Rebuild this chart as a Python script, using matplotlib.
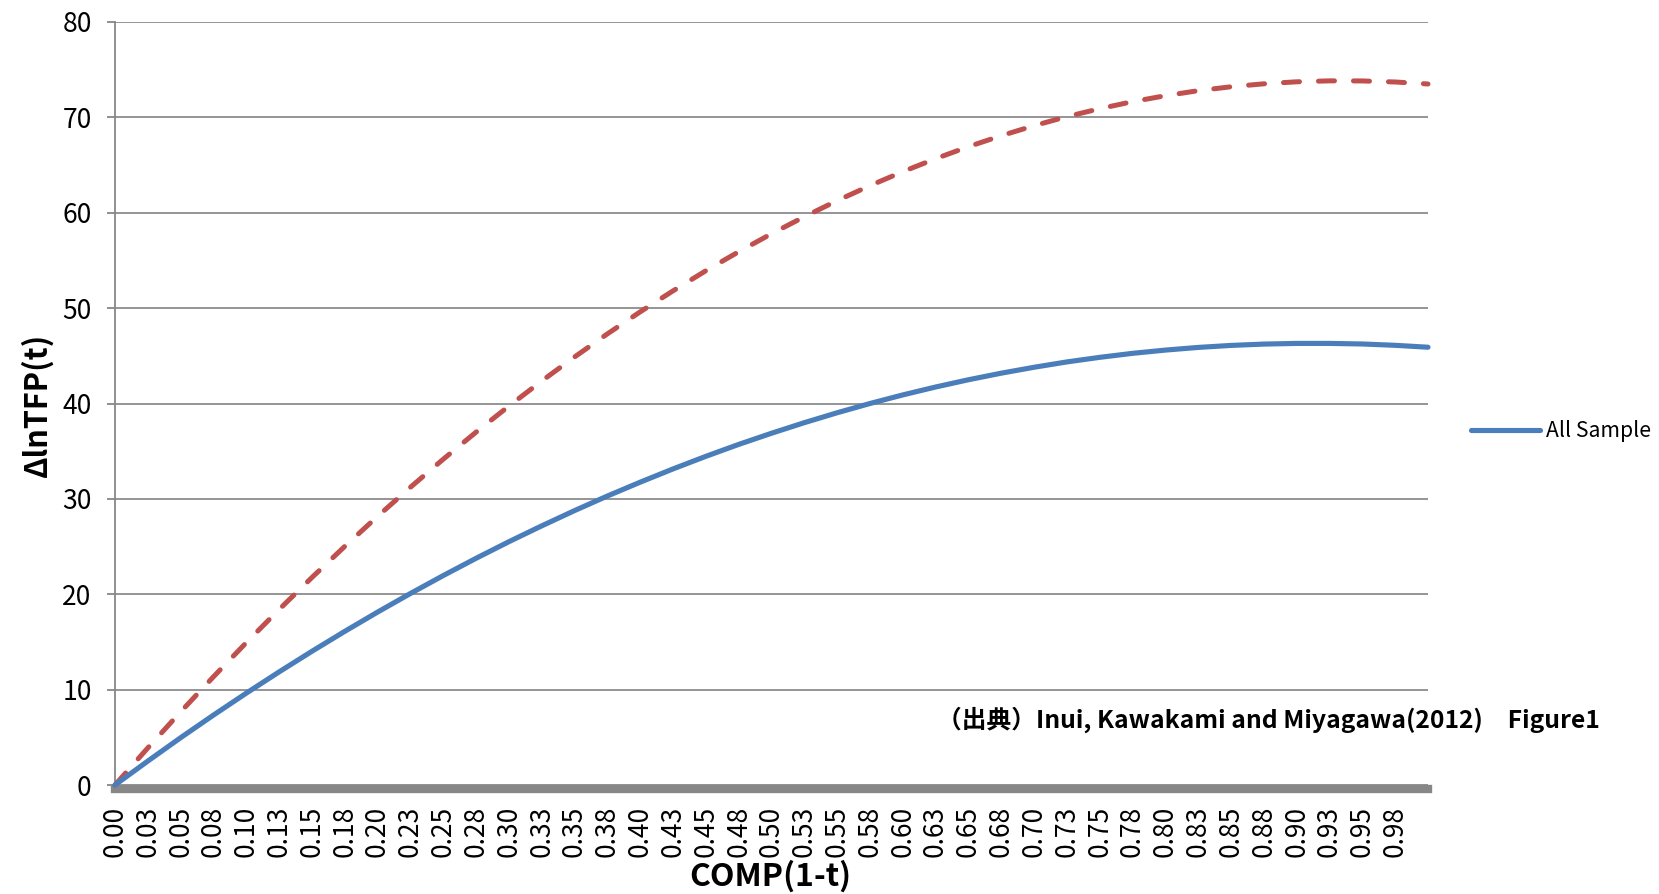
import matplotlib
matplotlib.use("Agg")
import matplotlib.pyplot as plt
from matplotlib.lines import Line2D

plt.rcParams['font.family'] = ['Noto Sans CJK JP', 'DejaVu Sans']

# ---- data ----
comp = [i / 40 for i in range(41)]  # 0.000 .. 1.000 step 0.025
all_sample = [0.00, 2.51, 4.96, 7.33, 9.63, 11.86, 14.02, 16.11, 18.13, 20.08,
              21.96, 23.77, 25.51, 27.17, 28.77, 30.30, 31.75, 33.14, 34.46, 35.71,
              36.88, 37.99, 39.03, 40.00, 40.90, 41.73, 42.49, 43.18, 43.80, 44.36,
              44.84, 45.26, 45.60, 45.88, 46.09, 46.23, 46.30, 46.30, 46.24, 46.10, 45.90]
second_series = [0.00, 3.89, 7.67, 11.35, 14.93, 18.40, 21.76, 25.02, 28.17, 31.22,
                 34.16, 37.00, 39.73, 42.36, 44.88, 47.30, 49.61, 51.81, 53.92, 55.91,
                 57.80, 59.58, 61.27, 62.84, 64.31, 65.67, 66.93, 68.08, 69.13, 70.08,
                 70.91, 71.65, 72.27, 72.80, 73.21, 73.52, 73.73, 73.83, 73.82, 73.71, 73.50]
xtick_pos = [i / 40 for i in range(40)]
xtick_labels = ["0.00", "0.03", "0.05", "0.08", "0.10", "0.13", "0.15", "0.18",
                "0.20", "0.23", "0.25", "0.28", "0.30", "0.33", "0.35", "0.38",
                "0.40", "0.43", "0.45", "0.48", "0.50", "0.53", "0.55", "0.58",
                "0.60", "0.63", "0.65", "0.68", "0.70", "0.73", "0.75", "0.78",
                "0.80", "0.83", "0.85", "0.88", "0.90", "0.93", "0.95", "0.98"]
yticks = [0, 10, 20, 30, 40, 50, 60, 70, 80]

BLUE = "#4a7ebb"
RED = "#c0504d"
GRAY = "#878787"

fig = plt.figure(figsize=(16.59, 8.94), dpi=100)
W, H = 1659, 894
ax = fig.add_axes([115 / W, 1 - 785 / H, (1428 - 115) / W, (785 - 22) / H])

# spines first (set_position resets tick settings)
for s in ['top', 'right']:
    ax.spines[s].set_visible(False)
ax.spines['left'].set_color(GRAY)
ax.spines['left'].set_linewidth(1.3)
ax.spines['bottom'].set_color(GRAY)
ax.spines['bottom'].set_linewidth(6)
ax.spines['bottom'].set_position(('outward', 3))

ax.plot(comp, second_series, color=RED, lw=3.6, linestyle=(0, (3.2, 3.8)),
        dash_capstyle='round', zorder=3, clip_on=False)
ax.plot(comp, all_sample, color=BLUE, lw=3.7, solid_capstyle='round',
        solid_joinstyle='round', zorder=4, clip_on=False)

ax.set_xlim(0, 1)
ax.set_ylim(0, 80)
ax.set_yticks(yticks)
ax.set_yticklabels([str(v) for v in yticks], fontsize=19)
ax.yaxis.grid(True, color="#8c8c8c", lw=1.3)
ax.set_axisbelow(True)

ax.set_xticks(xtick_pos)
ax.set_xticklabels(xtick_labels, rotation=90, fontsize=19, va='top')
ax.tick_params(axis='x', length=0, pad=12)
ax.tick_params(axis='y', length=5.8, width=1.3, color=GRAY, pad=11)

fig.text(37 / W, 1 - 405 / H, "ΔlnTFP(t)", rotation=90, ha='center', va='center',
         fontsize=22, fontweight='bold')
fig.text(770 / W, 1 - 876 / H, "COMP(1-t)", ha='center', va='center',
         fontsize=23, fontweight='bold')

fig.text(937 / W, 1 - 720 / H, "（出典）Inui, Kawakami and Miyagawa(2012)\u3000Figure1",
         ha='left', va='center', fontsize=17.8, fontweight='bold')

handle = Line2D([0], [0], color=BLUE, lw=3.7, solid_capstyle='round')
fig.legend(handles=[handle], labels=["All Sample"], loc='center left',
           bbox_to_anchor=(1471 / W, 1 - 431 / H), frameon=False, fontsize=15.2,
           handlelength=3.25, handletextpad=0.3, borderaxespad=0, borderpad=0)

fig.savefig("out.png", dpi=100)
